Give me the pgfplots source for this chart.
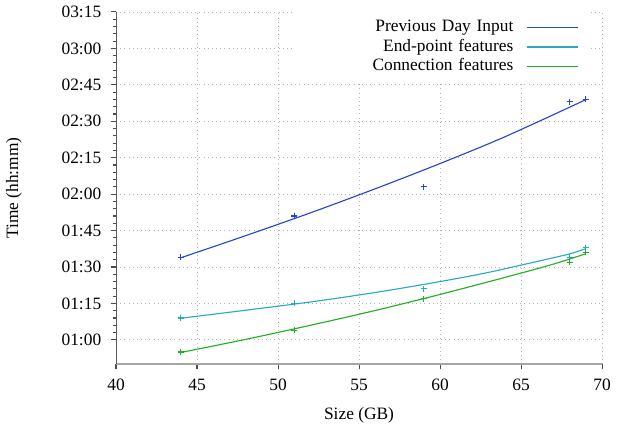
\documentclass[border=0pt]{standalone}
\usepackage{fontspec}
\setmainfont{Liberation Serif}
\usepackage{pgfplots}
\pgfplotsset{compat=1.18}

\definecolor{prevblue}{RGB}{40,70,205}
\definecolor{endcyan}{RGB}{40,170,195}
\definecolor{conngreen}{RGB}{35,175,35}

\begin{document}
\begin{tikzpicture}
\useasboundingbox (-66.8pt,-35.7pt) rectangle (293.1pt,209.7pt);
\begin{axis}[
    at={(0pt,0pt)}, anchor=south west,
    scale only axis,
    width=279.9pt, height=202.8pt,
    xmin=40, xmax=70,
    ymin=50, ymax=195,
    axis x line*=bottom, axis y line*=left,
    x axis line style={-, gray!70, line width=1pt},
    y axis line style={-, gray!70!black, line width=0.5pt},
    xtick={40,45,...,70},
    ytick={60,75,...,195},
    yticklabels={01:00,01:15,01:30,01:45,02:00,02:15,02:30,02:45,03:00,03:15},
    minor y tick num=4,
    tick align=outside,
    major tick length=3pt, minor tick length=1.8pt,
    major tick style={gray!60!black, line width=0.6pt},
    minor tick style={gray!60!black, line width=0.6pt},
    /pgf/number format/assume math mode=true,
    xticklabel style={yshift=-2pt},
    yticklabel style={xshift=-2pt},
    grid=major,
    major grid style={dotted, gray!60, line width=0.5pt},
    xlabel={Size (GB)},
    ylabel={Time (hh:mm)},
    xlabel style={at={(axis description cs:0.5,-0.145)}, anchor=center},
    ylabel style={at={(axis description cs:-0.181,0.5)}, anchor=south},
    legend plot pos=right,
    legend image code/.code={\draw[#1, line width=0.8pt] (0pt,0pt) -- (29.4pt,0pt);},
    legend style={
        at={(rel axis cs:0.9754,1)}, anchor=north east,
        draw=none, fill=white,
        inner xsep=6.5pt, inner ysep=4.3pt,
        row sep=2.2pt, column sep=7.3pt,
        cells={anchor=center},
        nodes={text width=120pt, align=right, inner sep=0pt,
               text height=7pt, text depth=2pt},
    },
]
% fitted curves
\addplot[prevblue, line width=0.65pt, smooth] coordinates {
    (44,93.8) (48,102.9) (52,112.3) (56,122.2) (60,132.6) (64,143.6) (69,158.9)
};
\addlegendentry{Previous Day Input}
\addplot[endcyan, line width=0.65pt, smooth] coordinates {
    (44,68.9) (48,72.2) (52,75.6) (56,79.5) (60,84.0) (63,87.8) (66,92.3) (68,95.4) (69,97.6)
};
\addlegendentry{End-point features}
\addplot[conngreen, line width=0.65pt, smooth] coordinates {
    (44,54.8) (48,60.2) (52,66.0) (56,72.1) (60,78.7) (64,85.7) (67,91.2) (69,95.5)
};
\addlegendentry{Connection features}

% measured points
\addplot[prevblue, only marks, mark=+, mark size=1.7pt,
    mark options={prevblue, line width=0.6pt}, forget plot]
    coordinates {(44,94) (51,111) (59,123) (68,158) (69,159)};
\addplot[endcyan, only marks, mark=+, mark size=1.7pt,
    mark options={endcyan, line width=0.6pt}, forget plot]
    coordinates {(44,69) (51,75) (59,81) (68,94) (69,98)};
\addplot[conngreen, only marks, mark=+, mark size=1.7pt,
    mark options={conngreen, line width=0.6pt}, forget plot]
    coordinates {(44,55) (51,64) (59,77) (68,92) (69,96)};
\end{axis}
\end{tikzpicture}
\end{document}
